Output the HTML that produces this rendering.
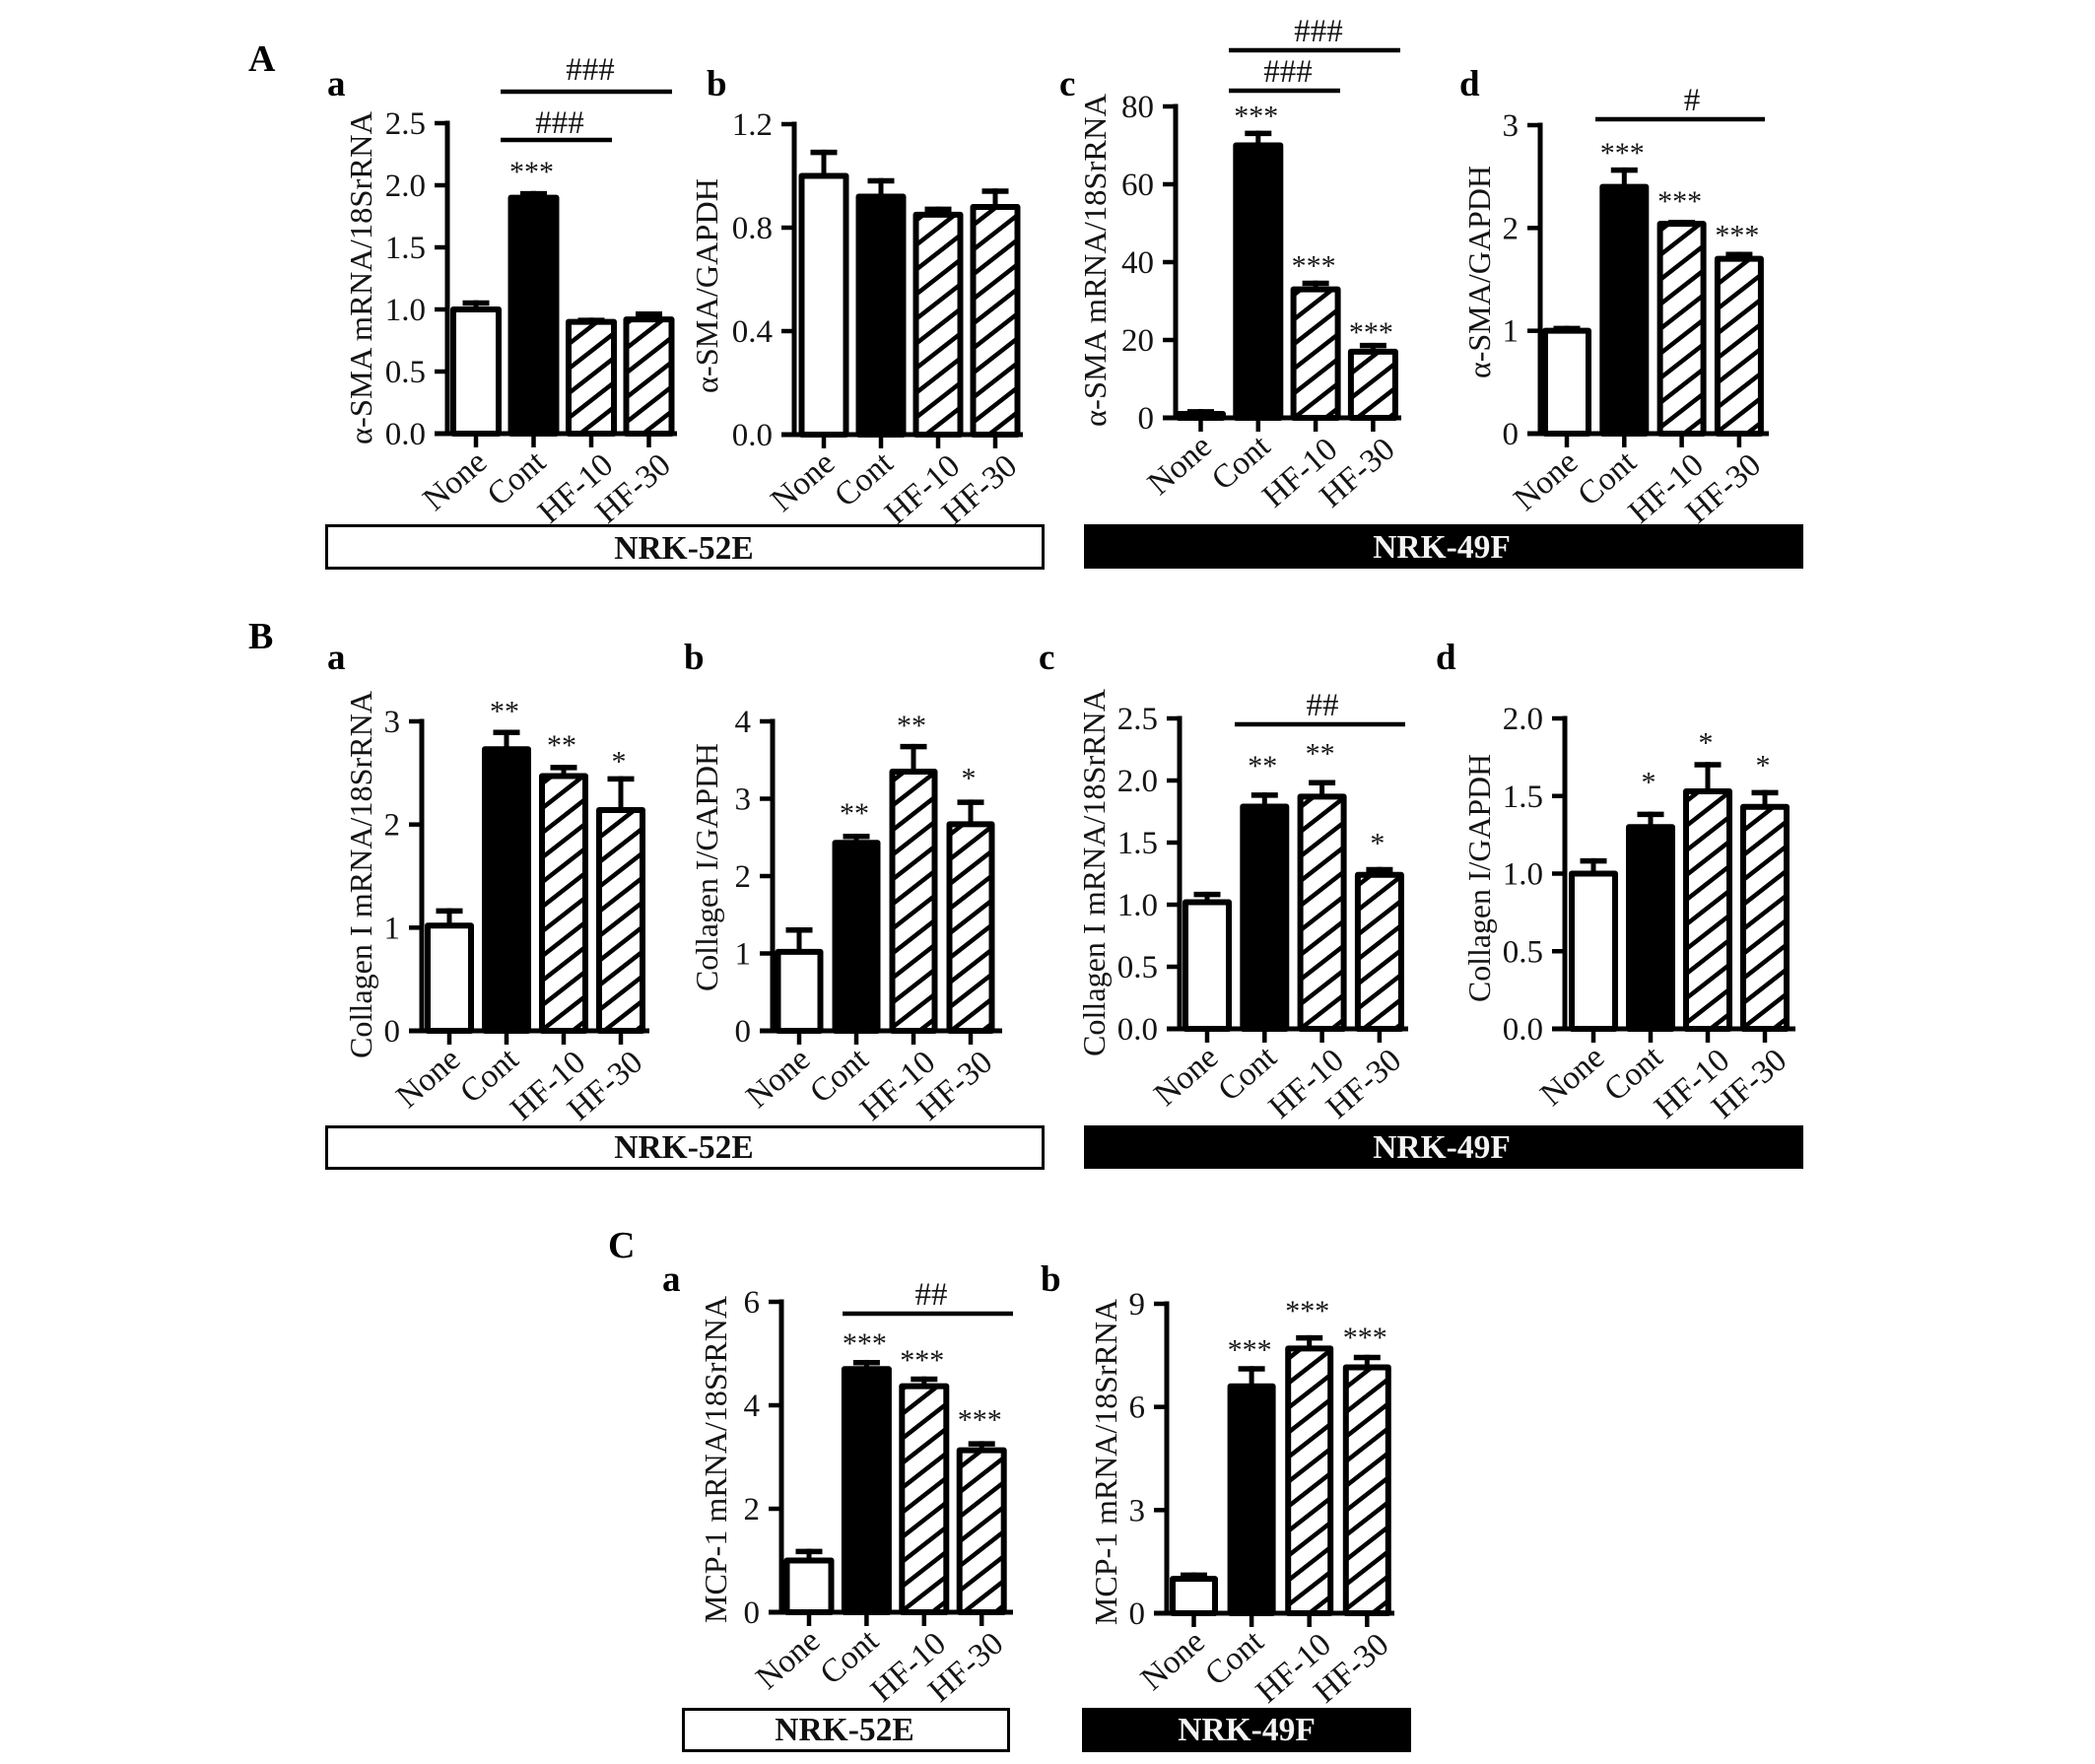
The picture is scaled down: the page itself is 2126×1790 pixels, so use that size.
<!DOCTYPE html>
<html lang="en">
<head>
<meta charset="utf-8">
<title>α-SMA, Collagen I and MCP-1 expression in NRK-52E and NRK-49F cells</title>
<style>
  html, body { margin: 0; padding: 0; background: #fff; }
  svg { display: block; }
  text { font-family: "Liberation Serif", "DejaVu Serif", serif; fill: #141414; }
  .letter { font-weight: bold; font-size: 38px; fill: #000; }
  .panel { font-weight: bold; font-size: 37px; fill: #000; }
  .cell { font-weight: bold; font-size: 33.5px; text-anchor: middle; fill: #111; }
  .cell-white { fill: #f4f4f4; }
</style>
</head>
<body>
<svg id="figure" xmlns="http://www.w3.org/2000/svg" width="2126" height="1790" viewBox="0 0 2126 1790">
  <defs>
    <pattern id="hatch" patternUnits="userSpaceOnUse" width="32" height="25">
      <rect width="32" height="25" fill="#fff"></rect>
      <line x1="-6.4" y1="30" x2="38.4" y2="-5" stroke="#000" stroke-width="4.5"></line>
      <line x1="-6.4" y1="5" x2="6.4" y2="-5" stroke="#000" stroke-width="4.5"></line>
      <line x1="25.6" y1="30" x2="38.4" y2="20" stroke="#000" stroke-width="4.5"></line>
    </pattern>
  </defs>
  <rect width="2126" height="1790" fill="#fff"></rect>

  <text class="letter" x="252" y="72">A</text>
  <text class="panel" x="332" y="97">a</text>
  <text class="panel" x="717" y="97">b</text>
  <text class="panel" x="1075" y="97">c</text>
  <text class="panel" x="1481" y="97">d</text>

  <text class="letter" x="252" y="658">B</text>
  <text class="panel" x="332" y="679">a</text>
  <text class="panel" x="694" y="679">b</text>
  <text class="panel" x="1054" y="679">c</text>
  <text class="panel" x="1457" y="679">d</text>

  <text class="letter" x="617" y="1276">C</text>
  <text class="panel" x="672" y="1310">a</text>
  <text class="panel" x="1056" y="1310">b</text>

  <rect x="331.5" y="533.5" width="727" height="43" fill="#fff" stroke="#000" stroke-width="3"></rect>
  <text class="cell" x="694" y="567">NRK-52E</text>
  <rect x="1100" y="532" width="730" height="45" fill="#000"></rect>
  <text class="cell cell-white" x="1463" y="566">NRK-49F</text>

  <rect x="331.5" y="1143.5" width="727" height="42" fill="#fff" stroke="#000" stroke-width="3"></rect>
  <text class="cell" x="694" y="1175">NRK-52E</text>
  <rect x="1100" y="1142" width="730" height="44" fill="#000"></rect>
  <text class="cell cell-white" x="1463" y="1175">NRK-49F</text>

  <rect x="693.5" y="1734.5" width="330" height="42" fill="#fff" stroke="#000" stroke-width="3"></rect>
  <text class="cell" x="857" y="1766">NRK-52E</text>
  <rect x="1098" y="1733" width="334" height="45" fill="#000"></rect>
  <text class="cell cell-white" x="1265" y="1766">NRK-49F</text>

  <g id="charts"></g>
</svg>

<script>
const categories = ['None', 'Cont', 'HF-10', 'HF-30'];

const aaTicks = ['0.0', '0.5', '1.0', '1.5', '2.0', '2.5'];
const aaValues = [1.0, 1.9, 0.9, 0.92];
const aaErrors = [0.05, 0.03, 0.01, 0.04];
const aaStars = ['', '***', '', ''];

const abTicks = ['0.0', '0.4', '0.8', '1.2'];
const abValues = [1.0, 0.92, 0.85, 0.88];
const abErrors = [0.09, 0.06, 0.02, 0.06];
const abStars = ['', '', '', ''];

const acTicks = ['0', '20', '40', '60', '80'];
const acValues = [1, 70, 33, 17];
const acErrors = [0.5, 3, 1.5, 1.5];
const acStars = ['', '***', '***', '***'];

const adTicks = ['0', '1', '2', '3'];
const adValues = [1.0, 2.4, 2.04, 1.7];
const adErrors = [0.02, 0.16, 0.01, 0.04];
const adStars = ['', '***', '***', '***'];

const baTicks = ['0', '1', '2', '3'];
const baValues = [1.02, 2.73, 2.47, 2.14];
const baErrors = [0.14, 0.16, 0.08, 0.3];
const baStars = ['', '**', '**', '*'];

const bbTicks = ['0', '1', '2', '3', '4'];
const bbValues = [1.02, 2.43, 3.35, 2.67];
const bbErrors = [0.28, 0.08, 0.32, 0.28];
const bbStars = ['', '**', '**', '*'];

const bcTicks = ['0.0', '0.5', '1.0', '1.5', '2.0', '2.5'];
const bcValues = [1.02, 1.79, 1.87, 1.24];
const bcErrors = [0.06, 0.09, 0.11, 0.04];
const bcStars = ['', '**', '**', '*'];

const bdTicks = ['0.0', '0.5', '1.0', '1.5', '2.0'];
const bdValues = [1.0, 1.3, 1.53, 1.43];
const bdErrors = [0.08, 0.08, 0.17, 0.09];
const bdStars = ['', '*', '*', '*'];

const caTicks = ['0', '2', '4', '6'];
const caValues = [1.0, 4.7, 4.37, 3.13];
const caErrors = [0.17, 0.12, 0.13, 0.12];
const caStars = ['', '***', '***', '***'];

const cbTicks = ['0', '3', '6', '9'];
const cbValues = [1.0, 6.6, 7.7, 7.15];
const cbErrors = [0.1, 0.5, 0.3, 0.28];
const cbStars = ['', '***', '***', '***'];

const panels = [
  { id: 'a-a', ticks: aaTicks, values: aaValues, errors: aaErrors, stars: aaStars, title: 'α-SMA mRNA/18SrRNA',
    box: { axis: 454, top: 125, y0: 440, end: 687, first: 483, step: 58.5, w: 52 },
    titleBox: { x: 377, y1: 451, y2: 113 }, starGap: [0, 18, 0, 0],
    sig: [ { x1: 508, x2: 682, y: 93, tx: 599, ty: 81, label: '###' }, { x1: 508, x2: 621, y: 142, tx: 568, ty: 135, label: '###' } ] },
  { id: 'a-b', ticks: abTicks, values: abValues, errors: abErrors, stars: abStars, title: 'α-SMA/GAPDH',
    box: { axis: 806, top: 126, y0: 441, end: 1038, first: 836, step: 58, w: 51 },
    titleBox: { x: 728, y1: 399, y2: 181 }, starGap: [0, 0, 0, 0], sig: [] },
  { id: 'a-c', ticks: acTicks, values: acValues, errors: acErrors, stars: acStars, title: 'α-SMA mRNA/18SrRNA',
    box: { axis: 1193, top: 108, y0: 424, end: 1422, first: 1218.5, step: 58.3, w: 51 },
    titleBox: { x: 1122, y1: 433, y2: 95 }, starGap: [0, 13, 13, 9],
    sig: [ { x1: 1247, x2: 1421, y: 51, tx: 1338, ty: 42, label: '###' }, { x1: 1247, x2: 1360, y: 92, tx: 1307, ty: 83, label: '###' } ] },
  { id: 'a-d', ticks: adTicks, values: adValues, errors: adErrors, stars: adStars, title: 'α-SMA/GAPDH',
    box: { axis: 1563, top: 127, y0: 440, end: 1795, first: 1590, step: 58.3, w: 50 },
    titleBox: { x: 1512, y1: 384, y2: 168 }, starGap: [0, 13, 17, 15],
    sig: [ { x1: 1619, x2: 1791, y: 121, tx: 1717, ty: 112, label: '#' } ] },
  { id: 'b-a', ticks: baTicks, values: baValues, errors: baErrors, stars: baStars, title: 'Collagen I mRNA/18SrRNA',
    box: { axis: 428, top: 732, y0: 1046, end: 659, first: 456, step: 58, w: 50 },
    titleBox: { x: 377, y1: 1074, y2: 701 }, starGap: [0, 17, 18, 13], sig: [] },
  { id: 'b-b', ticks: bbTicks, values: bbValues, errors: bbErrors, stars: bbStars, title: 'Collagen I/GAPDH',
    box: { axis: 784, top: 732, y0: 1046, end: 1017, first: 811, step: 58, w: 49 },
    titleBox: { x: 728, y1: 1006, y2: 754 }, starGap: [0, 19, 17, 20], sig: [] },
  { id: 'b-c', ticks: bcTicks, values: bcValues, errors: bcErrors, stars: bcStars, title: 'Collagen I mRNA/18SrRNA',
    box: { axis: 1197, top: 729, y0: 1044, end: 1429, first: 1225, step: 58.3, w: 50 },
    titleBox: { x: 1121, y1: 1072, y2: 699 }, starGap: [0, 25, 25, 22],
    sig: [ { x1: 1253, x2: 1426, y: 735, tx: 1342, ty: 726, label: '##' } ] },
  { id: 'b-d', ticks: bdTicks, values: bdValues, errors: bdErrors, stars: bdStars, title: 'Collagen I/GAPDH',
    box: { axis: 1588, top: 729, y0: 1044, end: 1822, first: 1617, step: 58, w: 50 },
    titleBox: { x: 1512, y1: 1017, y2: 765 }, starGap: [0, 28, 18, 23], sig: [] },
  { id: 'c-a', ticks: caTicks, values: caValues, errors: caErrors, stars: caStars, title: 'MCP-1 mRNA/18SrRNA',
    box: { axis: 793, top: 1321, y0: 1636, end: 1028, first: 821, step: 58.4, w: 51 },
    titleBox: { x: 737, y1: 1647, y2: 1315 }, starGap: [0, 15, 15, 20],
    sig: [ { x1: 855, x2: 1028, y: 1333, tx: 945, ty: 1324, label: '##' } ] },
  { id: 'c-b', ticks: cbTicks, values: cbValues, errors: cbErrors, stars: cbStars, title: 'MCP-1 mRNA/18SrRNA',
    box: { axis: 1184, top: 1323, y0: 1637, end: 1415, first: 1211.5, step: 58.6, w: 49 },
    titleBox: { x: 1133, y1: 1649, y2: 1318 }, starGap: [0, 15, 23, 16], sig: [] }
];

const labelDx = [13, 14, 24, 24];
const labelDy = [32, 32, 35, 35];

const SVG_NS = 'http://www.w3.org/2000/svg';
const root = document.getElementById('charts');

function make(parent, tag, attrs, content) {
  const el = document.createElementNS(SVG_NS, tag);
  Object.keys(attrs).forEach(function (k) { el.setAttribute(k, attrs[k]); });
  if (content !== undefined) el.textContent = content;
  parent.appendChild(el);
  return el;
}

function drawPanel(p) {
  const b = p.box;
  const maxTick = parseFloat(p.ticks[p.ticks.length - 1]);
  const yScale = function (v) { return b.y0 - (v / maxTick) * (b.y0 - b.top); };
  const xScale = function (i) { return b.first + i * b.step; };

  const g = make(root, 'g', {});
  
  

  p.values.forEach(function (v, i) {
    const cx = xScale(i);
    const errTop = yScale(v + p.errors[i]) - 3;
    const barTop = yScale(v);

    const stem = make(g, 'line', { x1: cx, x2: cx, y1: errTop, y2: barTop, stroke: '#000', 'stroke-width': 5 });
    
    

    const cap = make(g, 'line', { x1: cx - 13.5, x2: cx + 13.5, y1: errTop + 2.75, y2: errTop + 2.75, stroke: '#000', 'stroke-width': 5.5 });
    
    

    const fill = i === 0 ? '#fff' : (i === 1 ? '#000' : 'url(#hatch)');
    const bar = make(g, 'rect', {
      x: cx - b.w / 2 + 3, y: barTop, width: b.w - 6, height: b.y0 - barTop,
      fill: fill, stroke: '#000', 'stroke-width': 6, 'stroke-linejoin': 'round'
    });
    
    

    if (p.stars[i]) {
      const star = make(g, 'text', { x: cx - 2, y: errTop - p.starGap[i] + 8, 'font-size': 30, 'text-anchor': 'middle' }, p.stars[i]);
      
      
    }

    const xt = make(g, 'line', { x1: cx, x2: cx, y1: b.y0, y2: b.y0 + 14, stroke: '#000', 'stroke-width': 4.5 });
    
    

    const lx = cx + labelDx[i];
    const ly = b.y0 + labelDy[i];
    const xl = make(g, 'text', { x: lx, y: ly, 'font-size': 33.5, 'text-anchor': 'end', transform: 'rotate(-41 ' + lx + ' ' + ly + ')' }, categories[i]);
    
    
  });

  const yAxis = make(g, 'line', { x1: b.axis, x2: b.axis, y1: b.top - 2.5, y2: b.y0 + 2.5, stroke: '#000', 'stroke-width': 5 });
  
  

  const xAxis = make(g, 'line', { x1: b.axis - 13, x2: b.end, y1: b.y0, y2: b.y0, stroke: '#000', 'stroke-width': 5 });
  
  

  p.ticks.forEach(function (t) {
    const y = yScale(parseFloat(t));
    const tick = make(g, 'line', { x1: b.axis - 13, x2: b.axis, y1: y, y2: y, stroke: '#000', 'stroke-width': 4.5 });
    
    

    const label = make(g, 'text', { x: b.axis - 22, y: y + 11, 'font-size': 33, 'text-anchor': 'end' }, t);
    
    
  });

  const tb = p.titleBox;
  const title = make(g, 'text', {
    x: 0, y: 0, 'font-size': 32, textLength: tb.y1 - tb.y2, lengthAdjust: 'spacingAndGlyphs',
    transform: 'translate(' + tb.x + ' ' + tb.y1 + ') rotate(-90)'
  }, p.title);
  
  

  p.sig.forEach(function (s, i) {
    const line = make(g, 'line', { x1: s.x1, x2: s.x2, y1: s.y, y2: s.y, stroke: '#000', 'stroke-width': 4.5 });
    
    

    const mark = make(g, 'text', { x: s.tx, y: s.ty, 'font-size': 33, 'text-anchor': 'middle' }, s.label);
    
    
  });
}

panels.forEach(drawPanel);
</script>
</body>
</html>
